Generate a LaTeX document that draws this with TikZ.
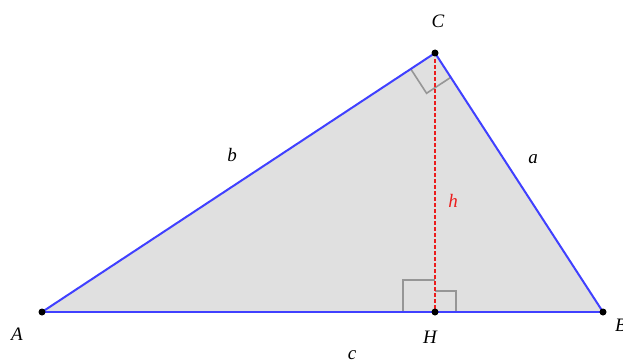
\documentclass[tikz,border=0pt]{standalone}
\usepackage{fontspec}
\setmainfont{Liberation Serif}
\usetikzlibrary{calc}
\definecolor{sideblue}{RGB}{64,64,255}
\definecolor{trifill}{RGB}{224,224,224}
\definecolor{markgray}{RGB}{150,150,150}
\definecolor{hred}{RGB}{235,30,30}
\begin{document}
\begin{tikzpicture}[x=1pt,y=-1pt,
  side/.style={draw=sideblue,line width=2pt},
  rmark/.style={draw=markgray,line width=1.6pt},
  htline/.style={draw=hred,line width=1.4pt,dash pattern=on 3.5pt off 2.5pt},
  pt/.style={circle,fill=black,inner sep=0pt,minimum size=7pt},
  lbl/.style={font=\fontsize{19}{19}\selectfont\itshape,inner sep=0pt}]
\useasboundingbox (0,0) rectangle (623,361);
\coordinate (A) at (42,312);
\coordinate (B) at (603,312);
\coordinate (C) at (435,53);
\coordinate (H) at (435,312);
\coordinate (CA) at ($(C)!29pt!(A)$);
\coordinate (CB) at ($(C)!29pt!(B)$);
\fill[trifill] (A) -- (B) -- (C) -- cycle;
% right angle marks at H
\draw[rmark] (H) -- ++(-32,0) -- ++(0,-32) -- ++(32,0);
\draw[rmark] (H) -- ++(21,0) -- ++(0,-21) -- ++(-21,0);
% right angle mark at C
\draw[rmark] (CA) -- ($(CA)+(CB)-(C)$) -- (CB);
\draw[side] (A) -- (B);
\draw[side] (B) -- (C);
\draw[side] (C) -- (A);
\path[htline] (C) -- (H);
\node[pt] (pA) at (A) {};
\node[pt] (pB) at (B) {};
\node[pt] (pC) at (C) {};
\node[pt] (pH) at (H) {};
\node[lbl] (lC) at (438,21) {C};
\node[lbl] (lA) at (17,334) {A};
\node[lbl] (lH) at (430,337) {H};
\node[lbl,anchor=west] (lB) at (615,325) {B};
\node[lbl] (lb) at (232,155) {b};
\node[lbl] (la) at (533,159) {a};
\node[lbl,anchor=north] (lc) at (352,350) {c};
\node[lbl,text=hred] (lh) at (453,201) {h};
\end{tikzpicture}
\end{document}
